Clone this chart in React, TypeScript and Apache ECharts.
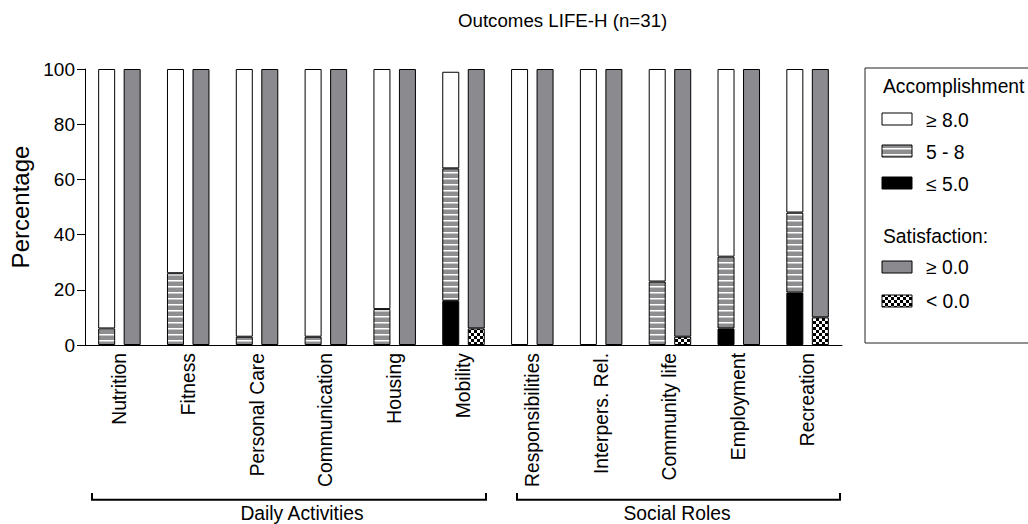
import React, { useEffect, useRef } from 'react';
import * as echarts from 'echarts';

// ---- data ----
const categories = [
  'Nutrition', 'Fitness', 'Personal Care', 'Communication', 'Housing', 'Mobility',
  'Responsibilities', 'Interpers. Rel.', 'Community life', 'Employment', 'Recreation',
];
// Accomplishment (stacked, % of participants)
const accLow = [0, 0, 0, 0, 0, 16, 0, 0, 0, 6, 19];        // ≤ 5.0
const accMid = [6, 26, 3, 3, 13, 48, 0, 0, 23, 26, 29];    // 5 - 8
const accHigh = [94, 74, 97, 97, 87, 35, 100, 100, 77, 68, 52]; // ≥ 8.0
// Satisfaction (stacked)
const satNeg = [0, 0, 0, 0, 0, 6, 0, 0, 3, 0, 10];         // < 0.0
const satPos = [100, 100, 100, 100, 100, 94, 100, 100, 97, 100, 90]; // ≥ 0.0
const yTicks = [0, 20, 40, 60, 80, 100];
const groupLabels = ['Daily Activities', 'Social Roles'];
const accLegend = ['≥ 8.0', '5 - 8', '≤ 5.0'];
const satLegend = ['≥ 0.0', '< 0.0'];

const FONT = "'Liberation Sans', Arial, Helvetica, sans-serif";
const GRAY = '#8b8b8f';
const FS = 19.3;

function makeStripes() {
  const c = document.createElement('canvas');
  c.width = 8; c.height = 6;
  const ctx = c.getContext('2d')!;
  ctx.fillStyle = '#8e8e90';
  ctx.fillRect(0, 0, 8, 6);
  ctx.fillStyle = '#ffffff';
  ctx.fillRect(0, 4, 8, 1.5);
  return { image: c, repeat: 'repeat', imageWidth: 8, imageHeight: 6 } as any;
}

function makeChecker() {
  const c = document.createElement('canvas');
  c.width = 6; c.height = 6;
  const ctx = c.getContext('2d')!;
  ctx.fillStyle = '#ffffff';
  ctx.fillRect(0, 0, 6, 6);
  ctx.fillStyle = '#000000';
  ctx.fillRect(0, 0, 3, 3);
  ctx.fillRect(3, 3, 3, 3);
  return { image: c, repeat: 'repeat', imageWidth: 6, imageHeight: 6 } as any;
}

const nz = (arr: number[]) => arr.map((v) => (v === 0 ? null : v));

export default function App() {
  const ref = useRef<HTMLDivElement>(null);

  useEffect(() => {
    if (!ref.current) return;
    const chart = echarts.init(ref.current, undefined, { renderer: 'svg' });
    const stripes = makeStripes();
    const checker = makeChecker();
    const border = { borderColor: '#000', borderWidth: 1 };
    const barCommon = { type: 'bar', barWidth: 17, barGap: '50%', emphasis: { disabled: true } };

    const accFills = ['#ffffff', stripes, '#000000'];
    const satFills = [GRAY, checker];
    const accY = [119, 151, 183];
    const satY = [267, 301];
    const font = `${FS}px ${FONT}`;

    const legendGraphics: any[] = [
      { type: 'rect', shape: { x: 865, y: 68, width: 200, height: 275 }, style: { fill: 'none', stroke: '#222', lineWidth: 1 } },
      { type: 'text', x: 883, y: 86, style: { text: 'Accomplishment', font, fill: '#000', verticalAlign: 'middle' } },
      { type: 'text', x: 883, y: 236, style: { text: 'Satisfaction:', font, fill: '#000', verticalAlign: 'middle' } },
    ];
    accLegend.forEach((t, i) => {
      legendGraphics.push({ type: 'rect', shape: { x: 882, y: accY[i] - 6, width: 30, height: 12 }, style: { fill: accFills[i], stroke: '#000', lineWidth: 1 } });
      legendGraphics.push({ type: 'text', x: 926, y: accY[i] + 1, style: { text: t, font, fill: '#000', verticalAlign: 'middle' } });
    });
    satLegend.forEach((t, i) => {
      legendGraphics.push({ type: 'rect', shape: { x: 882, y: satY[i] - 6, width: 30, height: 12 }, style: { fill: satFills[i], stroke: '#000', lineWidth: 1 } });
      legendGraphics.push({ type: 'text', x: 926, y: satY[i], style: { text: t, font, fill: '#000', verticalAlign: 'middle' } });
    });

    const brackets = [
      { x0: 92, x1: 486, cx: 302 },
      { x0: 517, x1: 840, cx: 677 },
    ];
    brackets.forEach((b, i) => {
      legendGraphics.push({ type: 'polyline', shape: { points: [[b.x0, 493], [b.x0, 499.7], [b.x1, 499.7], [b.x1, 493]] }, style: { fill: 'none', stroke: '#000', lineWidth: 2 } });
      legendGraphics.push({ type: 'text', x: b.cx, y: 513, style: { text: groupLabels[i], font, fill: '#000', align: 'center', verticalAlign: 'middle' } });
    });

    chart.setOption({
      animation: false,
      backgroundColor: '#ffffff',
      textStyle: { fontFamily: FONT },
      title: {
        text: 'Outcomes LIFE-H (n=31)',
        left: 458,
        top: 11,
        padding: 0,
        textStyle: { fontSize: 18.7, fontWeight: 'normal', color: '#000', fontFamily: FONT },
      },
      grid: { left: 85, top: 69, width: 757, height: 276, containLabel: false },
      xAxis: {
        type: 'category',
        data: categories,
        axisLine: { lineStyle: { color: '#000', width: 1 } },
        axisTick: { show: false },
        axisLabel: { rotate: 90, margin: 8, interval: 0, fontSize: FS, color: '#000', fontFamily: FONT },
      },
      yAxis: {
        type: 'value',
        min: yTicks[0],
        max: yTicks[yTicks.length - 1],
        interval: yTicks[1] - yTicks[0],
        name: 'Percentage',
        nameLocation: 'middle',
        nameRotate: 90,
        nameGap: 52,
        nameTextStyle: { fontSize: 24, color: '#000', fontFamily: FONT },
        axisLine: { show: true, lineStyle: { color: '#000', width: 1 } },
        axisTick: { show: true, length: 8, lineStyle: { color: '#000' } },
        splitLine: { show: false },
        axisLabel: { margin: 10, fontSize: 19, color: '#000', fontFamily: FONT },
      },
      series: [
        { ...barCommon, name: '≤ 5.0', stack: 'acc', data: nz(accLow), itemStyle: { color: '#000', ...border } },
        { ...barCommon, name: '5 - 8', stack: 'acc', data: nz(accMid), itemStyle: { color: stripes, ...border } },
        { ...barCommon, name: '≥ 8.0', stack: 'acc', data: nz(accHigh), itemStyle: { color: '#fff', ...border } },
        { ...barCommon, name: '< 0.0', stack: 'sat', data: nz(satNeg), itemStyle: { color: checker, ...border } },
        { ...barCommon, name: '≥ 0.0', stack: 'sat', data: nz(satPos), itemStyle: { color: GRAY, ...border } },
      ],
      graphic: legendGraphics,
    } as any);

    return () => chart.dispose();
  }, []);

  return (
    <div
      ref={ref}
      style={{ position: 'absolute', left: 0, top: 0, width: 1028, height: 524, background: '#fff' }}
    />
  );
}
